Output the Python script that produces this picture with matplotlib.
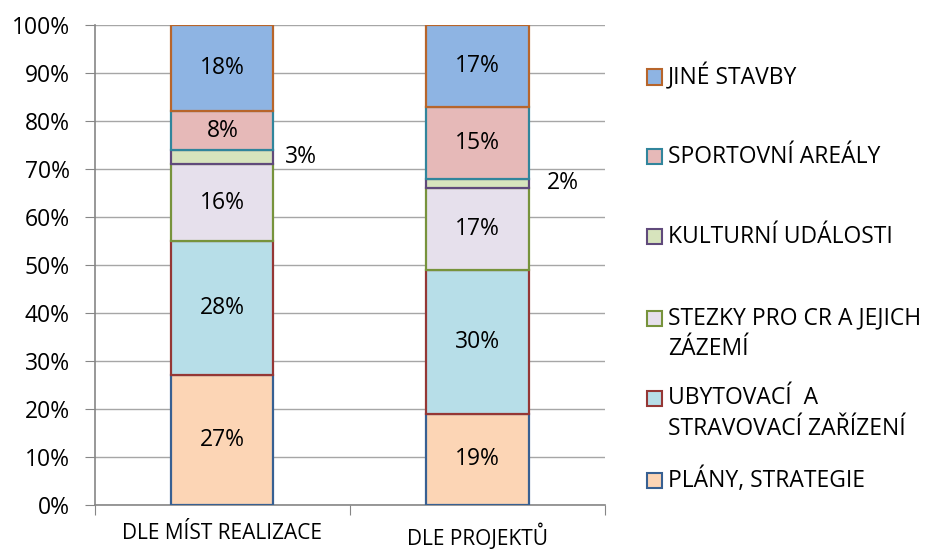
import numpy as np
import matplotlib.pyplot as plt
from matplotlib.patches import Rectangle

categories = ["DLE MÍST REALIZACE", "DLE PROJEKTŮ"]
series = [
    "PLÁNY, STRATEGIE",
    "UBYTOVACÍ  A\nSTRAVOVACÍ ZAŘÍZENÍ",
    "STEZKY PRO CR A JEJICH\nZÁZEMÍ",
    "KULTURNÍ UDÁLOSTI",
    "SPORTOVNÍ AREÁLY",
    "JINÉ STAVBY",
]
values = [
    [27, 19],
    [28, 30],
    [16, 17],
    [3, 2],
    [8, 15],
    [18, 17],
]
fills = ["#FCD5B5", "#B7DEE8", "#E6E0EC", "#D7E4BD", "#E6B9B8", "#8EB4E3"]
edges = ["#376092", "#953735", "#77933C", "#604A7B", "#31859C", "#B7652B"]

plt.rcParams['font.family'] = ['Open Sans', 'DejaVu Sans']

W, H = 928, 549
fig = plt.figure(figsize=(W / 100, H / 100), dpi=100)
ax = fig.add_axes([95 / W, 44 / H, 510 / W, 480 / H])

x = np.arange(len(categories)) + 0.5
bottom = np.zeros(len(categories))
for vals, fc, ec in zip(values, fills, edges):
    vals = np.array(vals, dtype=float)
    ax.bar(x, vals, 0.4, bottom=bottom, color=fc, edgecolor=ec, linewidth=1.6, zorder=3)
    for i, v in enumerate(vals):
        if v >= 5:
            ax.text(x[i], bottom[i] + v / 2, f"{v:.0f}%", ha="center", va="center",
                    fontsize=16.5, zorder=4)
        else:
            ax.annotate(f"{v:.0f}%", (x[i] + 0.2, bottom[i] + v / 2),
                        xytext=(8 + 5.5 * i, 0), textcoords="offset points",
                        ha="left", va="center", fontsize=16.5)
    bottom += vals

ax.set_xlim(0, 2)
ax.set_ylim(0, 100)
ax.set_yticks(np.arange(0, 101, 10))
ax.set_yticklabels([f"{t}%" for t in range(0, 101, 10)], fontsize=16.5)
ax.set_xticks([0, 1, 2])
ax.set_xticklabels([])
ax.set_xticks(x, minor=True)
ax.set_xticklabels(categories, minor=True, fontsize=15)
ax.tick_params(axis="x", which="minor", length=0, pad=13)
ax.tick_params(axis="x", which="major", length=7, color="#868686")
ax.tick_params(axis="y", length=7, color="#868686", pad=11)
ax.grid(axis="y", color="#A6A6A6", linewidth=1, zorder=0)
for s in ["top", "right"]:
    ax.spines[s].set_visible(False)
for s in ["left", "bottom"]:
    ax.spines[s].set_color("#868686")
    ax.spines[s].set_linewidth(1.2)

# legend, drawn top to bottom like the original
leg_y = [77, 157, 237, 318, 398, 480]
for name, fc, ec, yy in zip(series[::-1], fills[::-1], edges[::-1], leg_y):
    fig.patches.append(Rectangle((647 / W, 1 - (yy + 7.5) / H), 15 / W, 15 / H,
                                 transform=fig.transFigure, facecolor=fc,
                                 edgecolor=ec, linewidth=1.5))
    for k, line in enumerate(name.split("\n")):
        fig.text(668 / W, 1 - (yy + 31 * k) / H, line, ha="left", va="center",
                 fontsize=16.5)

fig.savefig("out.png", dpi=100)
